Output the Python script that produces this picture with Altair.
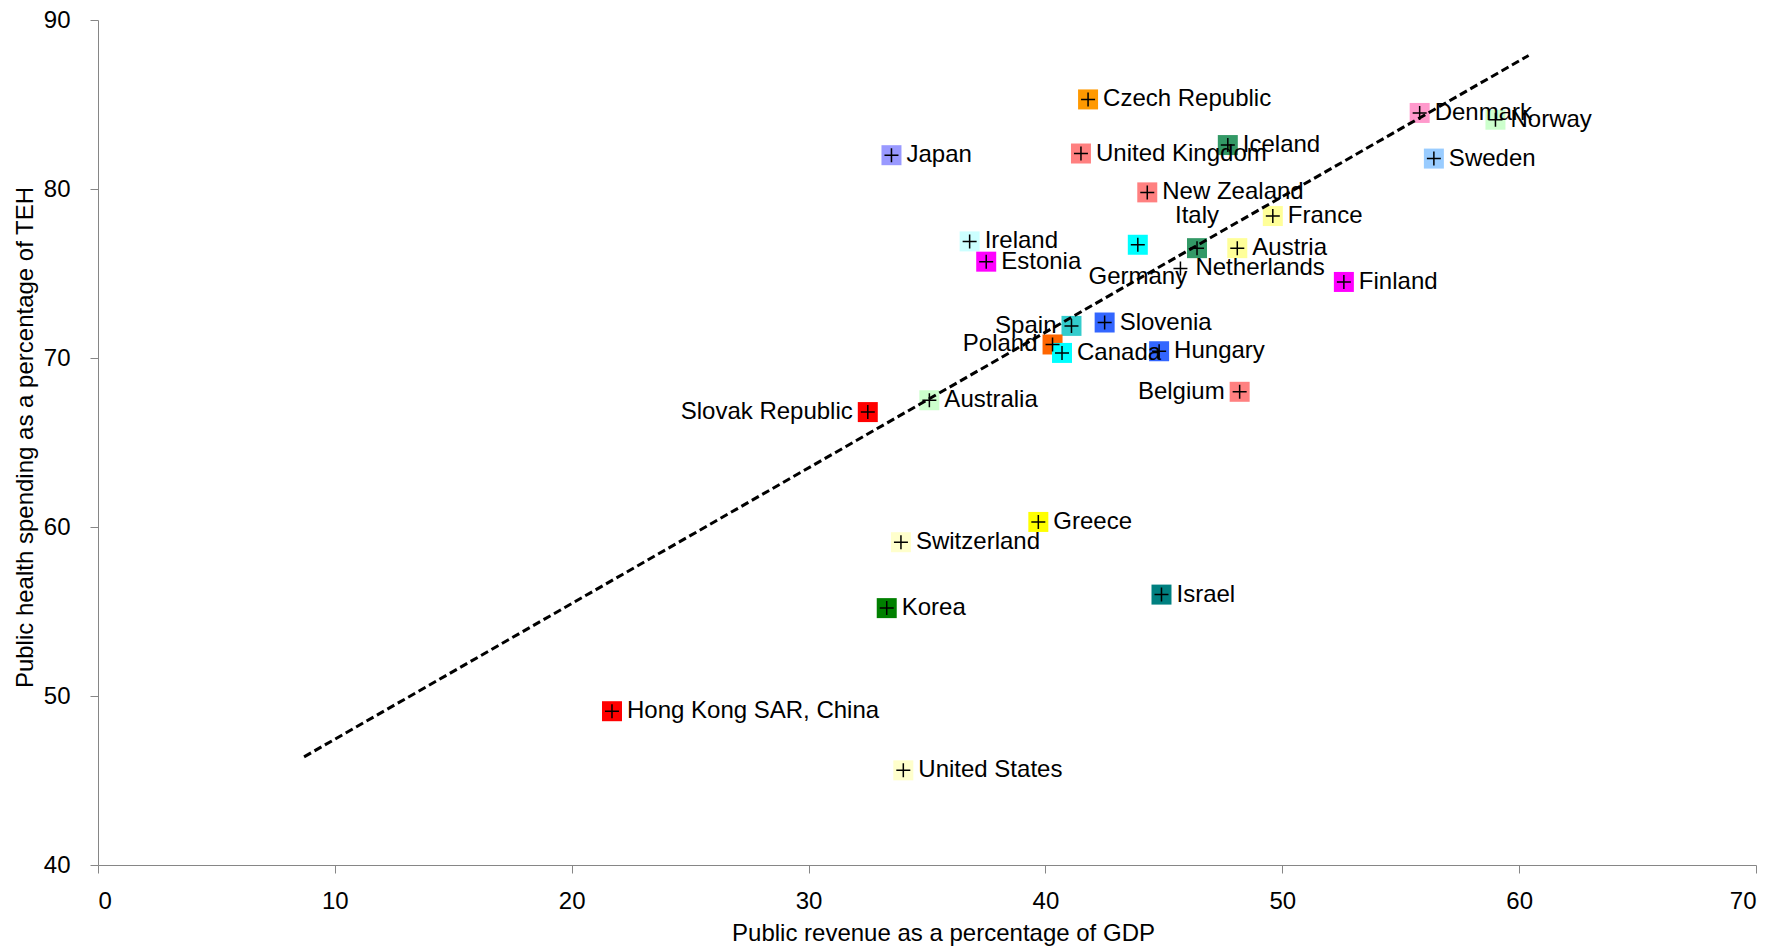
import altair as alt
import pandas as pd

countries = [
    "Czech Republic", "Japan", "United Kingdom", "Iceland", "Denmark", "Norway",
    "Sweden", "New Zealand", "France", "Ireland", "Germany", "Italy", "Austria",
    "Estonia", "Netherlands", "Finland", "Slovenia", "Spain", "Poland", "Canada",
    "Hungary", "Belgium", "Slovak Republic", "Australia", "Greece", "Switzerland",
    "Korea", "Israel", "Hong Kong SAR, China", "United States",
]
revenue_gdp = [
    41.8, 33.5, 41.5, 47.7, 55.8, 59.0,
    56.4, 44.3, 49.6, 36.8, 43.9, 46.4, 48.1,
    37.5, 45.7, 52.6, 42.5, 41.1, 40.3, 40.7,
    44.8, 48.2, 32.5, 35.1, 39.7, 33.9,
    33.3, 44.9, 21.7, 34.0,
]
public_share_teh = [
    85.3, 82.0, 82.1, 82.6, 84.5, 84.1,
    81.8, 79.8, 78.4, 76.9, 76.7, 76.5, 76.5,
    75.7, 75.3, 74.5, 72.1, 71.9, 70.8, 70.3,
    70.4, 68.0, 66.8, 67.5, 60.3, 59.1,
    55.2, 56.0, 49.1, 45.6,
]
marker_colors = [
    "#FF9900", "#9999FF", "#FF8080", "#339966", "#FF99CC", "#CCFFCC",
    "#99CCFF", "#FF8080", "#FFFF99", "#CCFFFF", "#00FFFF", "#339966", "#FFFF99",
    "#FF00FF", "transparent", "#FF00FF", "#3366FF", "#33CCCC", "#FF6600", "#00FFFF",
    "#3366FF", "#FF8080", "#FF0000", "#CCFFCC", "#FFFF00", "#FFFFCC",
    "#008000", "#008080", "#FF0000", "#FFFFCC",
]

left_labels = ["Slovak Republic", "Spain", "Poland", "Belgium"]
above_labels = ["Italy"]
below_labels = ["Germany"]

trend_x = [8.7, 60.4]
trend_y = [46.4, 87.9]

def placement(name):
    if name in left_labels:
        return "left"
    if name in above_labels:
        return "above"
    if name in below_labels:
        return "below"
    return "right"

df = pd.DataFrame({
    "country": countries,
    "revenue": revenue_gdp,
    "public": public_share_teh,
    "color": marker_colors,
})
df["pos"] = [placement(c) for c in countries]
trend = pd.DataFrame({"revenue": trend_x, "public": trend_y})

FONT = "Liberation Sans"
AX = "#868686"

x_enc = alt.X(
    "revenue:Q",
    scale=alt.Scale(domain=[0, 70], nice=False, zero=False),
    axis=alt.Axis(
        values=list(range(0, 71, 10)), title="Public revenue as a percentage of GDP",
        grid=False, domainColor=AX, tickColor=AX, tickSize=8, labelPadding=16,
        labelFontSize=24, titleFontSize=24, titleFontWeight="normal",
        titlePadding=8, titleX=845,
        labelColor="black", titleColor="black", labelFont=FONT, titleFont=FONT,
    ),
)
y_enc = alt.Y(
    "public:Q",
    scale=alt.Scale(domain=[40, 90], nice=False, zero=False),
    axis=alt.Axis(
        values=list(range(40, 91, 10)), title="Public health spending as a percentage of TEH",
        grid=False, domainColor=AX, tickColor=AX, tickSize=8, labelPadding=20,
        labelFontSize=24, titleFontSize=24, titleFontWeight="normal", titlePadding=6,
        titleY=417,
        labelColor="black", titleColor="black", labelFont=FONT, titleFont=FONT,
    ),
)

base = alt.Chart(df)

squares = base.mark_square(size=400, opacity=1).encode(
    x=x_enc, y=y_enc, color=alt.Color("color:N", scale=None)
)
pluses = base.mark_point(
    shape="M-1,0L1,0M0,-1L0,1", size=196, filled=False, stroke="black",
    strokeWidth=1.5, opacity=1,
).encode(x="revenue:Q", y="public:Q")

def labels(pos, **kw):
    return base.transform_filter(alt.datum.pos == pos).mark_text(
        font=FONT, fontSize=24, color="black", baseline="middle", **kw
    ).encode(x="revenue:Q", y="public:Q", text="country:N")

lab_right = labels("right", align="left", dx=15)
lab_left = labels("left", align="right", dx=-15)
lab_above = labels("above", align="center", dy=-32)
lab_below = labels("below", align="center", dy=32)

trend_line = alt.Chart(trend).mark_line(
    color="black", strokeWidth=3, strokeDash=[8, 4]
).encode(x="revenue:Q", y="public:Q")

chart = alt.layer(
    squares, pluses, lab_right, lab_left, lab_above, lab_below, trend_line
).properties(
    width=1658, height=845,
    autosize=alt.AutoSizeParams(type="none"),
    padding={"left": 98, "top": 20, "right": 24, "bottom": 82},
    background="white",
).configure_view(stroke=None)

chart.save("out.html", embed_options={"renderer": "svg", "actions": False})
